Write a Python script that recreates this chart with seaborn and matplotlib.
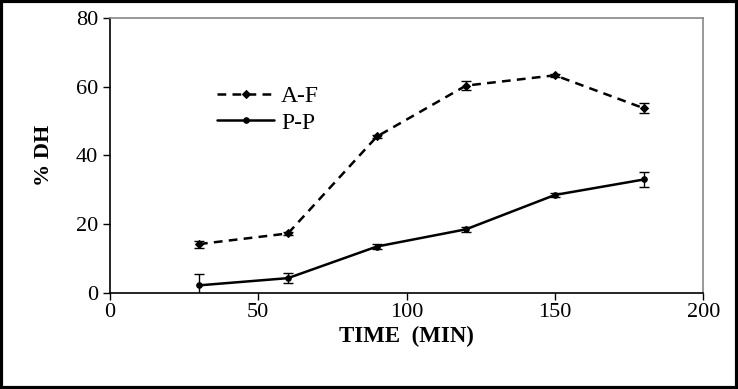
import matplotlib
matplotlib.use("Agg")
import matplotlib.pyplot as plt
import seaborn as sns
import pandas as pd

# values
time_min = [30, 60, 90, 120, 150, 180]
af_dh = [14.2, 17.3, 45.5, 60.3, 63.3, 53.7]
af_err = [1.0, 0.4, 0.5, 1.2, 0.5, 1.5]
pp_dh = [2.2, 4.3, 13.5, 18.5, 28.5, 33.0]
pp_err = [3.2, 1.4, 0.7, 0.8, 0.7, 2.3]

sns.set_theme(style="white")
plt.rcParams["font.family"] = ["Liberation Serif", "DejaVu Serif"]
plt.rcParams["text.color"] = "black"
plt.rcParams["axes.labelcolor"] = "black"

df = pd.DataFrame({
    "Time": time_min * 2,
    "DH": af_dh + pp_dh,
    "Series": ["A-F"] * len(time_min) + ["P-P"] * len(time_min),
})

fig = plt.figure(figsize=(7.38, 3.89), dpi=100)
ax = fig.add_axes([0.149, 0.247, 0.804, 0.707])

sns.lineplot(data=df, x="Time", y="DH", hue="Series", style="Series",
             palette=["black", "black"], dashes={"A-F": (3.5, 2.5), "P-P": ""},
             markers={"A-F": "D", "P-P": "o"}, markersize=4, linewidth=1.8,
             markeredgecolor="black", ax=ax, legend=True)

ax.errorbar(time_min, af_dh, yerr=af_err, fmt="none", ecolor="black",
            elinewidth=1, capsize=3.5)
ax.errorbar(time_min, pp_dh, yerr=pp_err, fmt="none", ecolor="black",
            elinewidth=1, capsize=3.5)

ax.set_xlim(0, 200)
ax.set_ylim(0, 80)
ax.set_xticks([0, 50, 100, 150, 200])
ax.set_yticks([0, 20, 40, 60, 80])
ax.tick_params(axis="both", direction="out", length=5, width=1, labelsize=16,
               bottom=True, left=True, colors="black")
ax.tick_params(axis="x", pad=2)
ax.set_xlabel("TIME  (MIN)", fontsize=16.5, fontweight="bold", labelpad=3)
ax.set_ylabel("% DH", fontsize=16, fontweight="bold", labelpad=16)

for side in ["left", "bottom"]:
    ax.spines[side].set_color("black")
    ax.spines[side].set_linewidth(1.2)
for side in ["top", "right"]:
    ax.spines[side].set_color("#888888")
    ax.spines[side].set_linewidth(1.2)

leg = ax.legend(loc="upper left", bbox_to_anchor=(0.145, 0.83), frameon=False,
                fontsize=17, handlelength=2.4, handletextpad=0.3, labelspacing=0.2)
leg.set_title(None)

# black frame around the whole picture
fig.patches.append(plt.Rectangle((0.002, 0.003), 0.996, 0.994, transform=fig.transFigure,
                                 fill=False, edgecolor="black", linewidth=3))

fig.savefig("out.png", dpi=100)
